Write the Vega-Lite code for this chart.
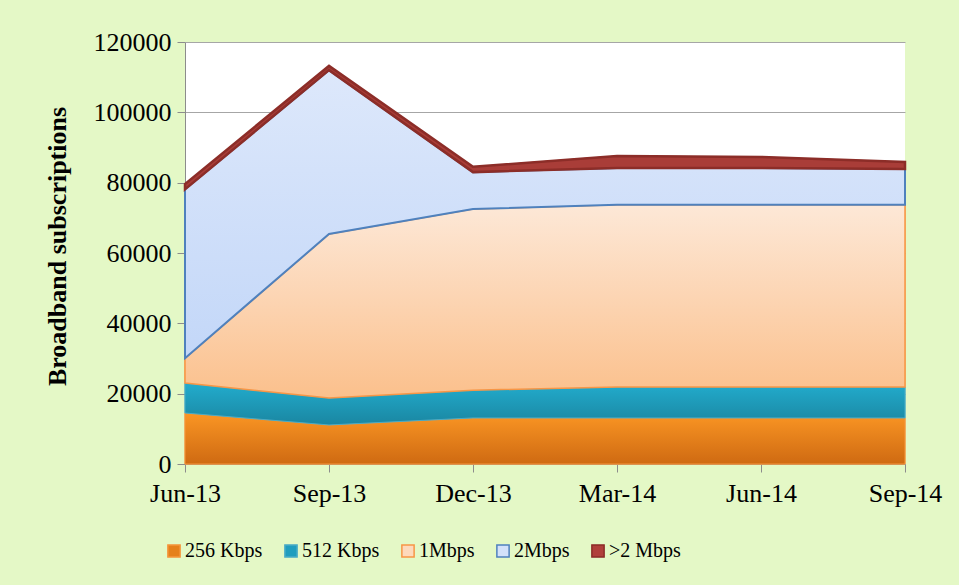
{
  "$schema": "https://vega.github.io/schema/vega-lite/v6.json",
  "width": 720,
  "height": 422,
  "autosize": {"type": "none"},
  "padding": {"left": 185, "top": 42, "right": 54, "bottom": 121},
  "background": "#E4F8C6",
  "config": {
    "view": {"fill": "white", "stroke": null},
    "font": "Liberation Serif"
  },
  "data": {
    "values": [
      {"q": "Jun-13", "s": "256 Kbps", "k": 1, "v": 14500},
      {"q": "Jun-13", "s": "512 Kbps", "k": 2, "v": 8500},
      {"q": "Jun-13", "s": "1Mbps", "k": 3, "v": 7100},
      {"q": "Jun-13", "s": "2Mbps", "k": 4, "v": 48000},
      {"q": "Jun-13", "s": ">2 Mbps", "k": 5, "v": 1500},
      {"q": "Sep-13", "s": "256 Kbps", "k": 1, "v": 11100},
      {"q": "Sep-13", "s": "512 Kbps", "k": 2, "v": 7700},
      {"q": "Sep-13", "s": "1Mbps", "k": 3, "v": 46600},
      {"q": "Sep-13", "s": "2Mbps", "k": 4, "v": 46600},
      {"q": "Sep-13", "s": ">2 Mbps", "k": 5, "v": 1200},
      {"q": "Dec-13", "s": "256 Kbps", "k": 1, "v": 13100},
      {"q": "Dec-13", "s": "512 Kbps", "k": 2, "v": 7900},
      {"q": "Dec-13", "s": "1Mbps", "k": 3, "v": 51500},
      {"q": "Dec-13", "s": "2Mbps", "k": 4, "v": 10500},
      {"q": "Dec-13", "s": ">2 Mbps", "k": 5, "v": 1500},
      {"q": "Mar-14", "s": "256 Kbps", "k": 1, "v": 13100},
      {"q": "Mar-14", "s": "512 Kbps", "k": 2, "v": 8800},
      {"q": "Mar-14", "s": "1Mbps", "k": 3, "v": 51800},
      {"q": "Mar-14", "s": "2Mbps", "k": 4, "v": 10500},
      {"q": "Mar-14", "s": ">2 Mbps", "k": 5, "v": 3400},
      {"q": "Jun-14", "s": "256 Kbps", "k": 1, "v": 13100},
      {"q": "Jun-14", "s": "512 Kbps", "k": 2, "v": 8800},
      {"q": "Jun-14", "s": "1Mbps", "k": 3, "v": 51800},
      {"q": "Jun-14", "s": "2Mbps", "k": 4, "v": 10500},
      {"q": "Jun-14", "s": ">2 Mbps", "k": 5, "v": 3100},
      {"q": "Sep-14", "s": "256 Kbps", "k": 1, "v": 13100},
      {"q": "Sep-14", "s": "512 Kbps", "k": 2, "v": 8800},
      {"q": "Sep-14", "s": "1Mbps", "k": 3, "v": 51800},
      {"q": "Sep-14", "s": "2Mbps", "k": 4, "v": 10200},
      {"q": "Sep-14", "s": ">2 Mbps", "k": 5, "v": 2000}
    ]
  },
  "transform": [
    {"stack": "v", "groupby": ["q"], "sort": [{"field": "k", "order": "ascending"}], "as": ["y0", "y1"]}
  ],
  "encoding": {
    "x": {
      "field": "q", "type": "ordinal",
      "sort": ["Jun-13", "Sep-13", "Dec-13", "Mar-14", "Jun-14", "Sep-14"],
      "scale": {"type": "point", "padding": 0},
      "axis": {
        "title": null, "labelAngle": 0, "labelFontSize": 26, "labelColor": "#000",
        "labelPadding": 8, "domainColor": "#8C8C8C", "tickColor": "#8C8C8C",
        "tickSize": 8, "grid": false, "labelFont": "Liberation Serif"
      }
    },
    "y": {
      "field": "y0", "type": "quantitative",
      "scale": {"domain": [0, 120000], "nice": false},
      "axis": {
        "title": "Broadband subscriptions", "titleFontSize": 26, "titleFont": "Liberation Serif",
        "titleFontWeight": "bold", "titleColor": "#000", "titlePadding": 23, "titleY": 204,
        "values": [0, 20000, 40000, 60000, 80000, 100000, 120000],
        "format": "d", "labelFontSize": 26, "labelColor": "#000", "labelPadding": 6,
        "labelFont": "Liberation Serif",
        "domainColor": "#8C8C8C", "tickColor": "#8C8C8C", "tickSize": 8,
        "gridColor": "#A6A6A6", "gridWidth": 1
      }
    },
    "y2": {"field": "y1"}
  },
  "layer": [
    {
      "mark": {"type": "area", "opacity": 1},
      "encoding": {
        "detail": {"field": "s"},
        "fill": {
          "field": "s", "type": "nominal",
          "scale": {
            "domain": ["256 Kbps", "512 Kbps", "1Mbps", "2Mbps", ">2 Mbps"],
            "range": ["#E5801B", "#1F9DBE", "#FDD9BC", "#D3E1FA", "#B0403B"]
          },
          "legend": {
            "orient": "none", "legendX": -21, "legendY": 499, "direction": "horizontal",
            "title": null, "labelFontSize": 20, "labelFont": "Liberation Serif", "labelColor": "#000",
            "symbolType": "square", "symbolSize": 150, "symbolStrokeWidth": 1.5, "symbolOpacity": 1,
            "columnPadding": 18, "labelOffset": 1
          }
        },
        "stroke": {
          "field": "s", "type": "nominal",
          "scale": {
            "domain": ["256 Kbps", "512 Kbps", "1Mbps", "2Mbps", ">2 Mbps"],
            "range": ["#F5963C", "#4BACC6", "#F79646", "#4F81BD", "#8C2D28"]
          }
        }
      }
    },
    {
      "transform": [{"filter": "datum.k == 1"}],
      "mark": {"type": "area", "stroke": "#F5963C", "strokeWidth": 1,
        "fill": {"gradient": "linear", "x1": 0, "y1": 0, "x2": 0, "y2": 1, "stops": [{"offset": 0, "color": "#FA9624"}, {"offset": 1, "color": "#CF6A12"}]}}
    },
    {
      "transform": [{"filter": "datum.k == 2"}],
      "mark": {"type": "area", "stroke": "#4BACC6", "strokeWidth": 1,
        "fill": {"gradient": "linear", "x1": 0, "y1": 0, "x2": 0, "y2": 1, "stops": [{"offset": 0, "color": "#22ACCD"}, {"offset": 1, "color": "#1A86A1"}]}}
    },
    {
      "transform": [{"filter": "datum.k == 3"}],
      "mark": {"type": "area", "stroke": "#F79646", "strokeWidth": 1.5,
        "fill": {"gradient": "linear", "x1": 0, "y1": 0, "x2": 0, "y2": 1, "stops": [{"offset": 0, "color": "#FDE8D7"}, {"offset": 1, "color": "#FBC08C"}]}}
    },
    {
      "transform": [{"filter": "datum.k == 4"}],
      "mark": {"type": "area", "stroke": "#4F81BD", "strokeWidth": 2,
        "fill": {"gradient": "linear", "x1": 0, "y1": 0, "x2": 0, "y2": 1, "stops": [{"offset": 0, "color": "#DDE8FB"}, {"offset": 1, "color": "#C3D7F8"}]}}
    },
    {
      "transform": [{"filter": "datum.k == 5"}],
      "mark": {"type": "area", "stroke": "#8C2D28", "strokeWidth": 2.5, "fill": "#A93D38"}
    }
  ]
}
